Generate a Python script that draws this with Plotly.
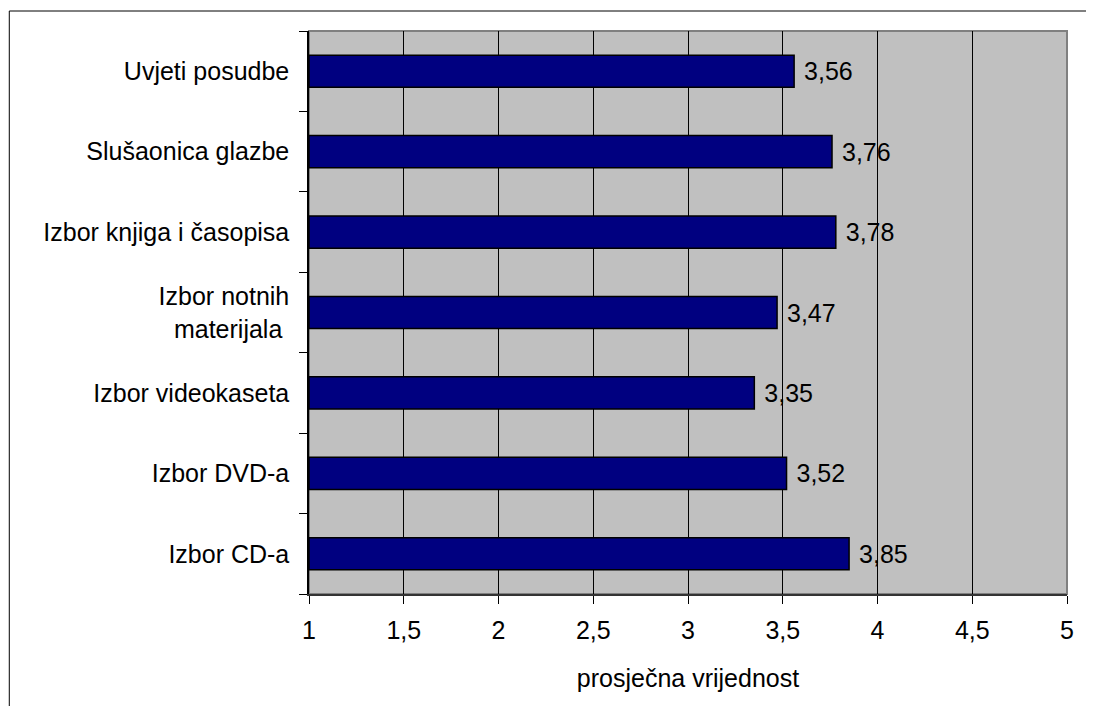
import plotly.graph_objects as go
import numpy as np

categories = ["Uvjeti posudbe", "Slušaonica glazbe", "Izbor knjiga i časopisa",
              "Izbor notnih<br>materijala ", "Izbor videokaseta", "Izbor DVD-a", "Izbor CD-a"]
values = [3.56, 3.76, 3.78, 3.47, 3.35, 3.52, 3.85]
x_ticks = [1, 1.5, 2, 2.5, 3, 3.5, 4, 4.5, 5]
x_tick_labels = ["1", "1,5", "2", "2,5", "3", "3,5", "4", "4,5", "5"]
axis_title = "prosječna vrijednost"

FONT = "Liberation Sans, Arial, sans-serif"
FS = 25
base_val = 1
vals = np.array(values)
labels = [" " + f"{v:.2f}".replace(".", ",") for v in values]

fig = go.Figure()
fig.add_trace(go.Bar(
    y=categories, x=vals - base_val, base=base_val, orientation="h",
    width=0.4,
    marker=dict(color="#000080", line=dict(color="black", width=1.5)),
    text=labels, textposition="outside", cliponaxis=False,
    textfont=dict(family=FONT, size=FS, color="black"),
    hoverinfo="skip",
))

# page has an 8px body margin; size the figure so the plot area lands where the reference has it
W, H = 1078, 698
L, R, T, B = 301, 17, 23, 112
pw, ph = W - L - R, H - T - B

fig.update_layout(
    width=W, height=H,
    margin=dict(l=L, r=R, t=T, b=B, pad=0),
    paper_bgcolor="white", plot_bgcolor="#C0C0C0",
    font=dict(family=FONT, size=FS, color="black"),
    showlegend=False,
    bargap=0.6,
    xaxis=dict(
        range=[1, 5], tickvals=x_ticks, ticktext=x_tick_labels,
        showgrid=True, gridcolor="black", gridwidth=1,
        ticks="outside", ticklen=8, tickcolor="black",
        showline=True, linecolor="#333333", linewidth=1.5,
        zeroline=False, ticklabelstandoff=5,
        title=dict(text=axis_title, standoff=27, font=dict(size=FS)),
    ),
    yaxis=dict(
        categoryorder="array", categoryarray=categories[::-1],
        ticks="outside", ticklen=8, tickson="boundaries", tickcolor="black",
        showline=True, linecolor="black", linewidth=1.5,
        showgrid=False, ticklabelstandoff=13,
    ),
    shapes=[
        dict(type="rect", xref="paper", yref="paper", x0=0, x1=1, y0=0, y1=1,
             line=dict(color="#808080", width=2), layer="below"),
        dict(type="rect", xref="paper", yref="paper",
             x0=(0.5 - L) / pw, x1=1.2, y0=-0.5, y1=(T + ph - 3) / ph,
             line=dict(color="black", width=1)),
    ],
)

fig.write_html("out.html")
